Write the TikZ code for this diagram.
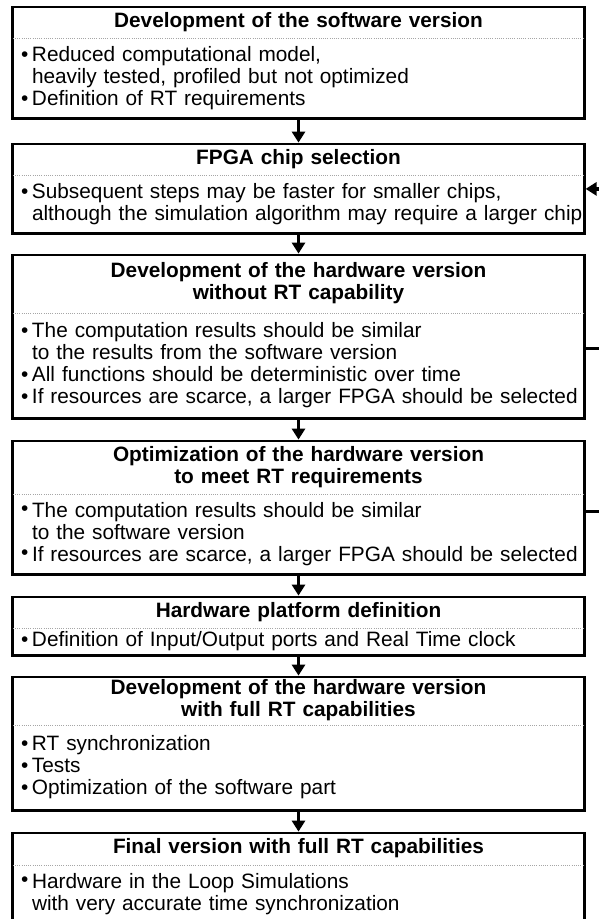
\documentclass[tikz,border=0pt]{standalone}
\usepackage{fontspec}
\setmainfont{Liberation Sans}
\usetikzlibrary{arrows.meta,positioning,fit}
\newlength{\bulind}
\setlength{\bulind}{11pt}
\newcommand{\bulitem}[1]{\noindent\mbox{\strut\makebox[\bulind][l]{\textbullet}#1}\par}
\newcommand{\bulitemhi}[1]{\noindent\mbox{\strut\makebox[\bulind][l]{\raisebox{1.8pt}{\textbullet}}#1}\par}
\newcommand{\contline}[1]{\noindent\mbox{\strut\hspace{\bulind}#1}\par}

\tikzset{
  stagehead/.style={text width=555pt, inner xsep=8pt, inner ysep=4.5pt, align=center,
    font=\fontsize{20.8}{22}\selectfont\bfseries,
    execute at begin node=\strut, execute at end node=\strut},
  stagebody/.style={text width=555pt, inner xsep=8pt, inner ysep=7pt, align=left,
    font=\fontsize{20.8}{22}\selectfont, below=0pt of #1},
  stagebox/.style={draw, line width=2.8pt, inner sep=0pt},
  sepline/.style={gray!70, line width=0.8pt, dash pattern=on 1pt off 1.2pt},
  flow/.style={line width=3.5pt, -{Triangle[width=13pt,length=11pt]}},
}

\begin{document}
\begin{tikzpicture}
  \useasboundingbox (0,0) rectangle (598pt,-919pt);

  % development of the software version
  \node[stagehead, anchor=north] (devswh) at (298.5pt,-7pt) {Development of the software version};
  \node[stagebody=devswh] (devswb) {\bulitem{Reduced computational model,}\contline{heavily tested, profiled but not optimized}\bulitem{Definition of RT requirements}};
  \node[stagebox, fit=(devswh)(devswb)] (devsw) {};
  \draw[sepline] (devswh.south west) -- (devswh.south east);

  % chip selection
  \node[stagehead, anchor=north] (chiph) at (298.5pt,-144pt) {FPGA chip selection};
  \node[stagebody=chiph] (chipb) {\bulitem{Subsequent steps may be faster for smaller chips,}\contline{although the simulation algorithm may require a larger chip}};
  \node[stagebox, fit=(chiph)(chipb)] (chip) {};
  \draw[sepline] (chiph.south west) -- (chiph.south east);

  % hardware version without RT
  \node[stagehead, anchor=north, inner ysep=7pt] (hwnorth) at (298.5pt,-255pt) {Development of the hardware version\\without RT capability};
  \node[stagebody=hwnorth, inner ysep=8.5pt] (hwnortb) {\bulitem{The computation results should be similar}\contline{to the results from the software version}\bulitem{All functions should be deterministic over time}\bulitem{If resources are scarce, a larger FPGA should be selected}};
  \node[stagebox, fit=(hwnorth)(hwnortb)] (hwnort) {};
  \draw[sepline] (hwnorth.south west) -- (hwnorth.south east);

  % optimization for RT
  \node[stagehead, anchor=north] (hwopth) at (298.5pt,-441pt) {Optimization of the hardware version\\to meet RT requirements};
  \node[stagebody=hwopth] (hwoptb) {\bulitemhi{The computation results should be similar}\contline{to the software version}\bulitemhi{If resources are scarce, a larger FPGA should be selected}};
  \node[stagebox, fit=(hwopth)(hwoptb)] (hwopt) {};
  \draw[sepline] (hwopth.south west) -- (hwopth.south east);

  % platform
  \node[stagehead, anchor=north] (platfh) at (298.5pt,-597pt) {Hardware platform definition};
  \node[stagebody=platfh, inner ysep=2.5pt] (platfb) {\bulitem{Definition of Input/Output ports and Real Time clock}};
  \node[stagebox, fit=(platfh)(platfb)] (platf) {};
  \draw[sepline] (platfh.south west) -- (platfh.south east);

  % hardware version with RT
  \node[stagehead, anchor=north, inner ysep=2pt] (hwrth) at (298.5pt,-677pt) {Development of the hardware version\\with full RT capabilities};
  \node[stagebody=hwrth, inner ysep=9.5pt] (hwrtb) {\bulitem{RT synchronization}\bulitem{Tests}\bulitem{Optimization of the software part}};
  \node[stagebox, fit=(hwrth)(hwrtb)] (hwrt) {};
  \draw[sepline] (hwrth.south west) -- (hwrth.south east);

  % final version
  \node[stagehead, anchor=north, inner ysep=5pt] (finalh) at (298.5pt,-833pt) {Final version with full RT capabilities};
  \node[stagebody=finalh] (finalb) {\bulitemhi{Hardware in the Loop Simulations}\contline{with very accurate time synchronization}\vspace*{30pt}};
  \node[stagebox, fit=(finalh)(finalb)] (final) {};
  \draw[sepline] (finalh.south west) -- (finalh.south east);

  % main flow
  \draw[flow] (devsw) -- (chip);
  \draw[flow] (chip) -- (hwnort);
  \draw[flow] (hwnort) -- (hwopt);
  \draw[flow] (hwopt) -- (platf);
  \draw[flow] (platf) -- (hwrt);
  \draw[flow] (hwrt) -- (final);

  % back to chip selection
  \coordinate (rail) at (614pt,0pt);
  \draw[line width=3.5pt] ([yshift=-11.5pt]hwnort.east) -- ([yshift=-11.5pt]hwnort.east -| rail);
  \draw[flow] ([yshift=-3.5pt]hwopt.east) -- ([yshift=-3.5pt]hwopt.east -| rail) |- (chip.east);
\end{tikzpicture}
\end{document}
